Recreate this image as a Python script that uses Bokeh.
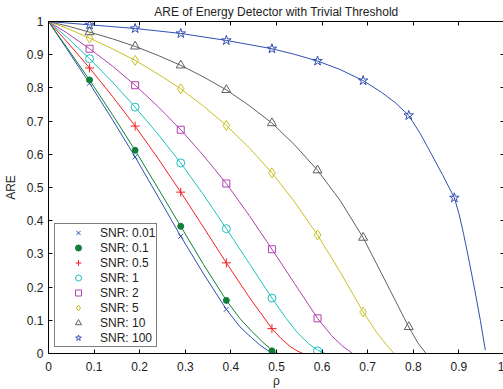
from bokeh.plotting import figure
from bokeh.models import Range1d, FixedTicker, LinearAxis, Legend
from bokeh.embed import file_html
from bokeh.resources import INLINE

# ---- data ----
snr_labels = ["SNR: 0.01", "SNR: 0.1", "SNR: 0.5", "SNR: 1", "SNR: 2", "SNR: 5", "SNR: 10", "SNR: 100"]

marker_rho = [0.09, 0.19, 0.29, 0.39, 0.49, 0.59, 0.69, 0.79, 0.89]

m_snr001 = [0.814, 0.592, 0.353, 0.133, 0.003]
m_snr01 = [0.824, 0.612, 0.383, 0.160, 0.008]
m_snr05 = [0.860, 0.685, 0.486, 0.273, 0.075]
m_snr1 = [0.888, 0.742, 0.574, 0.376, 0.167, 0.008]
m_snr2 = [0.918, 0.808, 0.674, 0.512, 0.314, 0.106]
m_snr5 = [0.950, 0.883, 0.797, 0.687, 0.544, 0.357, 0.125]
m_snr10 = [0.968, 0.925, 0.868, 0.794, 0.694, 0.552, 0.349, 0.080]
m_snr100 = [0.990, 0.979, 0.964, 0.943, 0.918, 0.881, 0.822, 0.717, 0.469]

lx_snr001 = [0, 0.04, 0.09, 0.14, 0.19, 0.24, 0.29, 0.34, 0.39, 0.42, 0.445, 0.465, 0.48, 0.49]
ly_snr001 = [1, 0.918, 0.814, 0.705, 0.592, 0.473, 0.353, 0.24, 0.133, 0.08, 0.048, 0.024, 0.010, 0.002]

lx_snr01 = [0, 0.04, 0.09, 0.14, 0.19, 0.24, 0.29, 0.34, 0.39, 0.42, 0.445, 0.47, 0.49, 0.503]
ly_snr01 = [1, 0.922, 0.824, 0.72, 0.612, 0.498, 0.383, 0.268, 0.160, 0.105, 0.068, 0.034, 0.01, 0]

lx_snr05 = [0, 0.04, 0.09, 0.14, 0.19, 0.24, 0.29, 0.34, 0.39, 0.44, 0.49, 0.51, 0.53, 0.545, 0.558]
ly_snr05 = [1, 0.94, 0.860, 0.775, 0.685, 0.588, 0.486, 0.38, 0.273, 0.17, 0.075, 0.045, 0.021, 0.008, 0]

lx_snr1 = [0, 0.04, 0.09, 0.14, 0.19, 0.24, 0.29, 0.34, 0.39, 0.44, 0.49, 0.52, 0.545, 0.57, 0.59, 0.607]
ly_snr1 = [1, 0.953, 0.888, 0.818, 0.742, 0.661, 0.574, 0.478, 0.376, 0.272, 0.167, 0.108, 0.064, 0.03, 0.01, 0]

lx_snr2 = [0, 0.04, 0.09, 0.14, 0.19, 0.24, 0.29, 0.34, 0.39, 0.44, 0.49, 0.54, 0.59, 0.62, 0.645, 0.667]
ly_snr2 = [1, 0.966, 0.918, 0.866, 0.808, 0.744, 0.674, 0.596, 0.512, 0.416, 0.314, 0.21, 0.106, 0.055, 0.022, 0]

lx_snr5 = [0, 0.04, 0.09, 0.14, 0.19, 0.24, 0.29, 0.34, 0.39, 0.44, 0.49, 0.54, 0.59, 0.64, 0.69, 0.72, 0.74, 0.758]
ly_snr5 = [1, 0.98, 0.950, 0.918, 0.883, 0.842, 0.797, 0.745, 0.687, 0.62, 0.544, 0.456, 0.357, 0.245, 0.125, 0.063, 0.028, 0]

lx_snr10 = [0, 0.04, 0.09, 0.14, 0.19, 0.24, 0.29, 0.34, 0.39, 0.44, 0.49, 0.54, 0.59, 0.64, 0.69, 0.74, 0.79, 0.81, 0.828]
ly_snr10 = [1, 0.987, 0.968, 0.948, 0.925, 0.898, 0.868, 0.833, 0.794, 0.747, 0.694, 0.628, 0.552, 0.46, 0.349, 0.215, 0.080, 0.032, 0]

lx_snr100 = [0, 0.09, 0.19, 0.29, 0.39, 0.49, 0.54, 0.59, 0.64, 0.69, 0.73, 0.76, 0.79, 0.815, 0.84, 0.865,
             0.89, 0.90, 0.91, 0.92, 0.935, 0.947, 0.958]
ly_snr100 = [1, 0.990, 0.979, 0.964, 0.943, 0.918, 0.901, 0.881, 0.855, 0.822, 0.787, 0.756, 0.717, 0.663, 0.600,
             0.536, 0.469, 0.422, 0.362, 0.295, 0.19, 0.10, 0.01]

x_ticks = [0, 0.1, 0.2, 0.3, 0.4, 0.5, 0.6, 0.7, 0.8, 0.9, 1]
x_tick_labels = ["0", "0.1", "0.2", "0.3", "0.4", "0.5", "0.6", "0.7", "0.8", "0.9", "1"]
y_ticks = [0, 0.1, 0.2, 0.3, 0.4, 0.5, 0.6, 0.7, 0.8, 0.9, 1]
y_tick_labels = ["0", "0.1", "0.2", "0.3", "0.4", "0.5", "0.6", "0.7", "0.8", "0.9", "1"]

# ---- styling ----
FONT = "Liberation Sans"
colors = ["#2f4fb0", "#0f7f3a", "#f02020", "#1fc0c0", "#b040b0", "#c8c020", "#606060", "#2f4fb0"]
markers = ["x", "circle", "cross", "circle", "square", "diamond", "triangle", "star"]
sizes = [7, 6, 9, 8, 7, 10, 9, 10]
filled = [False, True, False, False, False, False, False, False]

p = figure(frame_width=456, frame_height=332, output_backend="svg", toolbar_location=None,
           x_range=Range1d(0, 1), y_range=Range1d(0, 1),
           min_border_left=38, min_border_right=0, min_border_top=13, min_border_bottom=30)

p.title.text = "ARE of Energy Detector with Trivial Threshold"
p.title.align = "center"
p.title.text_font = FONT
p.title.text_font_size = "12px"
p.title.text_font_style = "normal"
p.title.text_color = "#222222"
p.title.standoff = 5
p.title.offset = 0

p.xgrid.visible = False
p.ygrid.visible = False
p.outline_line_color = "black"
p.outline_line_width = 1
p.background_fill_color = "white"

for ax, ticks, labels in [(p.xaxis[0], x_ticks, x_tick_labels), (p.yaxis[0], y_ticks, y_tick_labels)]:
    ax.ticker = FixedTicker(ticks=ticks)
    ax.major_label_overrides = {t: l for t, l in zip(ticks, labels)}
    ax.minor_tick_line_color = None
    ax.major_tick_in = 4
    ax.major_tick_out = 0
    ax.major_label_text_font = FONT
    ax.major_label_text_font_size = "12px"
    ax.major_label_text_color = "#222222"
    ax.axis_label_text_font = FONT
    ax.axis_label_text_font_size = "12px"
    ax.axis_label_text_font_style = "normal"
    ax.axis_label_text_color = "#222222"
    ax.axis_line_color = "black"

p.xaxis.axis_label = "ρ"
p.yaxis.axis_label = "ARE"
p.xaxis.major_label_standoff = 8
p.xaxis.axis_label_standoff = 0
p.xaxis.axis_label_text_line_height = 1.0
p.yaxis.major_label_standoff = 5
p.yaxis.axis_label_standoff = 6

for loc, ticks in [("above", x_ticks), ("right", y_ticks)]:
    ax = LinearAxis(ticker=FixedTicker(ticks=ticks), major_tick_in=4, major_tick_out=0,
                    minor_tick_line_color=None, major_label_text_font_size="1px",
                    major_label_text_color=None,
                    major_label_standoff=0, axis_line_color="black")
    p.add_layout(ax, loc)

line_x = [lx_snr001, lx_snr01, lx_snr05, lx_snr1, lx_snr2, lx_snr5, lx_snr10, lx_snr100]
line_y = [ly_snr001, ly_snr01, ly_snr05, ly_snr1, ly_snr2, ly_snr5, ly_snr10, ly_snr100]
mark_y = [m_snr001, m_snr01, m_snr05, m_snr1, m_snr2, m_snr5, m_snr10, m_snr100]

for lx, ly, c in zip(line_x, line_y, colors):
    p.line(lx, ly, line_color=c, line_width=1)

items = []
for my, c, mk, sz, fl, lab in zip(mark_y, colors, markers, sizes, filled, snr_labels):
    r = p.scatter(marker_rho[:len(my)], my, marker=mk, size=sz, line_color=c, line_width=1,
                  fill_color=c if fl else None)
    items.append((lab, [r]))

legend = Legend(items=items, location="bottom_left", margin=6, padding=1, spacing=0,
                label_height=15, glyph_height=15, glyph_width=44, label_standoff=0,
                label_text_font=FONT, label_text_font_size="12px", label_text_color="#222222",
                border_line_color="black", border_line_width=1.5, background_fill_color="white",
                background_fill_alpha=1)
p.add_layout(legend, "center")

open("out.html", "w").write(file_html(p, INLINE))
